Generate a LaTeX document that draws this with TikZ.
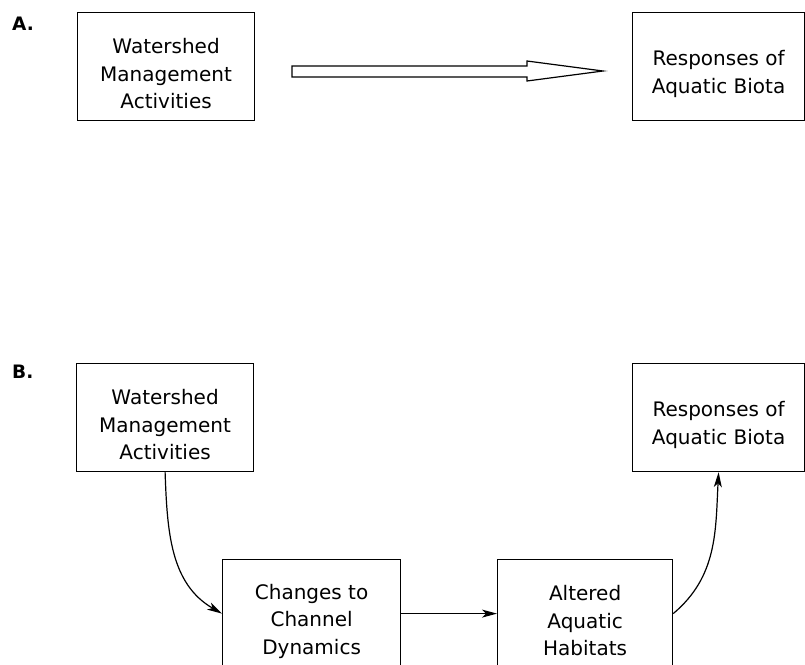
\documentclass[tikz,border=0pt]{standalone}
\usepackage{fontspec}
\setmainfont{DejaVu Sans}
\usetikzlibrary{arrows.meta}
\newcommand{\mytopstrut}{\rule{0pt}{30pt}}
\begin{document}
\begin{tikzpicture}[x=1pt,y=-1pt,
  box/.style={draw=black,line width=1.2pt,rectangle,align=center,
    minimum width=177pt,minimum height=108pt,inner sep=0pt,anchor=north west,
    font=\fontsize{20}{27.5}\selectfont},
  lbl/.style={anchor=base west,inner sep=0pt,font=\fontsize{18.5}{18}\selectfont\bfseries},
  conn/.style={line width=1.2pt,-{Stealth[length=15pt,width=8pt,inset=4pt]}}]
\clip (0,0) rectangle (805,664);
\fill[white] (0,0) rectangle (805,664);
% Panel A
\node[lbl] (la) at (12,30) {A.};
\node[box] (a1) at (77,12) {\mytopstrut Watershed\\Management\\Activities};
\node[box,minimum width=172pt] (a2) at (632,12) {\mytopstrut Responses of\\Aquatic Biota};
\draw[line width=1.2pt,fill=white,line join=miter]
  (292,66) -- (527,66) -- (527,61) -- (603,71) -- (527,81) -- (527,77) -- (292,77) -- cycle;
% Panel B
\node[lbl] (lb) at (12,378) {B.};
\node[box] (b1) at (76,363) {\mytopstrut Watershed\\Management\\Activities};
\node[box,minimum width=172pt] (b4) at (632,363) {\mytopstrut Responses of\\Aquatic Biota};
\node[box,minimum width=178pt] (b2) at (222,559) {\mytopstrut Changes to\\Channel\\Dynamics};
\node[box,minimum width=175pt] (b3) at (497,559) {\mytopstrut Altered\\Aquatic\\Habitats};
\draw[conn] (b1.south) to[out=-88,in=150] (b2.west);
\draw[conn] (b2.east) -- (b3.west);
\draw[conn] (b3.east) to[out=40,in=-93] (b4.south);
\end{tikzpicture}
\end{document}
